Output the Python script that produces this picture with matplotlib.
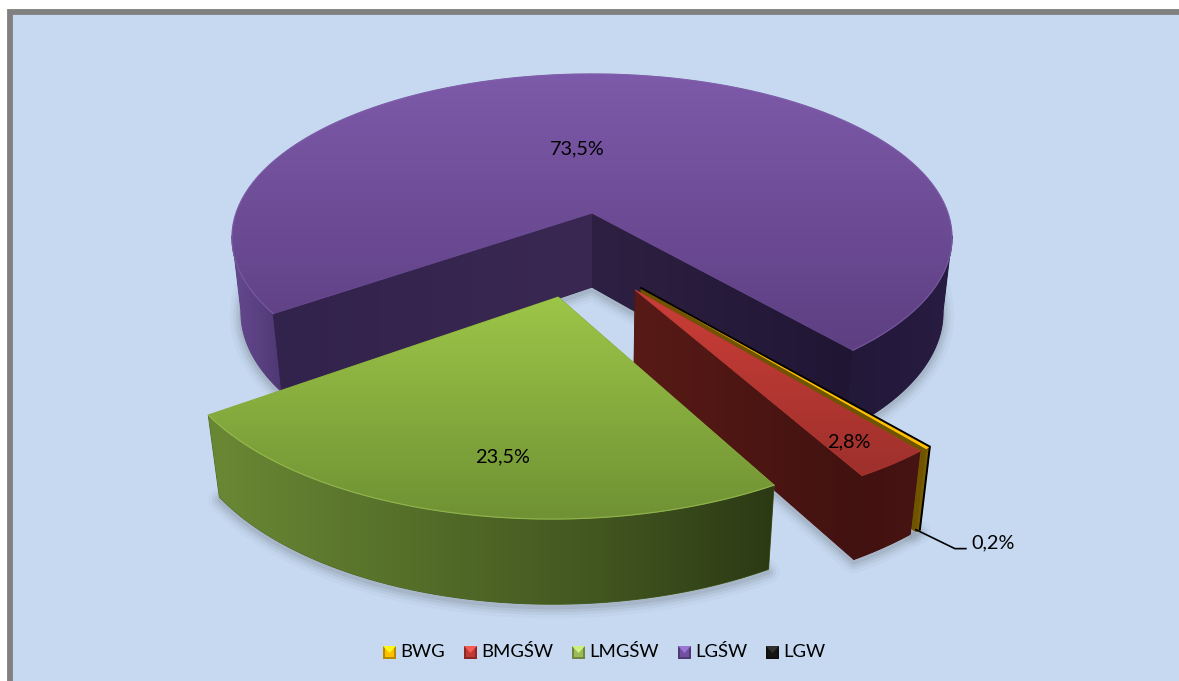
import numpy as np
import matplotlib
matplotlib.use("Agg")
import matplotlib.pyplot as plt
from matplotlib.patches import Polygon, Rectangle

plt.rcParams['font.family'] = ['Lato', 'DejaVu Sans']

# --- data ---
categories = ['BWG', 'BMGŚW', 'LMGŚW', 'LGŚW', 'LGW']
shares = [0.2, 2.8, 23.5, 73.5, 0.0]

# --- page and pie geometry, in pixels ---
W, H = 1179, 681
BG = '#C6D9F1'
CX, CY = 592, 213
A, B, D = 356, 159.9, 76   # half width, half height, wall height
K, Q = 0.15, 0.025         # perspective strength
START = 49.5               # first slice angle, clockwise from +x on screen
OFFSETS = [(0.129, 0.438), (0.113, 0.449), (-0.088, 0.487), (0, 0), (0.129, 0.438)]

fig = plt.figure(figsize=(W / 100, H / 100), dpi=100, facecolor='white')
ax = fig.add_axes([0, 0, 1, 1])
ax.set_xlim(0, W)
ax.set_ylim(H, 0)
ax.axis('off')


def project(u, v, d=0):
    w = 1 - K * v + Q * d
    return CX + A * u / w, CY + (B * v + D * d) / w


def arc(t0, t1, off, d=0, n=120):
    t = np.radians(np.linspace(t0, t1, n))
    x, y = project(np.cos(t) + off[0], np.sin(t) + off[1], d)
    return np.column_stack([x, y])


def point(off, d=0):
    return np.array(project(off[0], off[1], d))


def band(t0, t1, off):
    # outer wall between two angles, top edge then bottom edge
    return np.vstack([arc(t0, t1, off), arc(t0, t1, off, 1)[::-1]])


def fill_grad(poly, stops, vertical=True, z=1):
    # gradient image clipped to a polygon; stops are (position, rgb)
    poly = np.asarray(poly)
    x0, y0 = poly.min(axis=0)
    x1, y1 = poly.max(axis=0)
    pos = np.array([s[0] for s in stops], float)
    rgb = np.array([s[1] for s in stops], float) / 255
    lo, hi = (y0, y1) if vertical else (x0, x1)
    g = np.linspace(lo, hi, 256)
    row = np.column_stack([np.interp(g, pos, rgb[:, i]) for i in range(3)])
    img = row[:, None, :] if vertical else row[None, :, :]
    # solid layer underneath closes the seams between neighbouring faces
    ax.add_patch(Polygon(poly, closed=True, fc=tuple(rgb.mean(axis=0)), ec=tuple(rgb.mean(axis=0)),
                         lw=0.7, zorder=z - 0.01))
    im = ax.imshow(img, extent=(x0, x1, y1, y0), origin='upper', aspect='auto',
                   interpolation='bilinear', zorder=z)
    clip = Polygon(poly, closed=True, transform=ax.transData)
    im.set_clip_path(clip)


def soft_shadow(poly, z=1.5):
    for lw, a in [(16, 0.03), (11, 0.05), (7, 0.07), (3, 0.09)]:
        ax.add_patch(Polygon(poly + [0, 3], closed=True, fill=False, ec='#404040',
                             lw=lw, alpha=a, joinstyle='round', zorder=z))


ax.add_patch(Rectangle((10, 11.5), W, H, fc=BG, ec='#808080', lw=4.2, zorder=0))

# slice angles come from the shares
edges = START + np.concatenate([[0], np.cumsum(shares)]) * 3.6
bwg, bmg, lmg, lgs = [(edges[i], edges[i + 1]) for i in range(4)]

# ground shadows
for (t0, t1), off in [(lgs, OFFSETS[3]), (lmg, OFFSETS[2]), (bmg, OFFSETS[1]), (bwg, OFFSETS[0])]:
    soft_shadow(np.vstack([point(off, 1), arc(t0, t1, off, 1)]))

# LGŚW: the two visible parts of the outer wall, inner walls, then the top face
off = OFFSETS[3]
t0, t1 = lgs
fill_grad(band(t0, 172, off), [(233, (100, 74, 142)), (255, (92, 66, 132)), (285, (76, 54, 112))],
          vertical=False, z=2)
fill_grad(band(368, t1, off), [(850, (34, 24, 56)), (952, (40, 28, 66))], vertical=False, z=2)
left_corner = arc(t0, t0, off, n=1)[0]
left_bottom = arc(t0, t0, off, 1, n=1)[0]
right_corner = arc(t1, t1, off, n=1)[0]
right_bottom = arc(t1, t1, off, 1, n=1)[0]
fill_grad([point(off), left_corner, left_bottom, point(off, 1)],
          [(275, (50, 35, 76)), (592, (58, 40, 82))], vertical=False, z=3)
fill_grad([point(off), point(off, 1), right_bottom, right_corner],
          [(592, (46, 32, 66)), (852, (32, 22, 52))], vertical=False, z=3)
fill_grad(np.vstack([point(off), arc(t0, t1, off)]), [(74, (126, 90, 170)), (350, (93, 63, 130))], z=4)
ax.plot(*arc(t0, t1, off).T, color='#8A6BB5', lw=0.9, alpha=0.45, zorder=4.5)

# BWG: a thin sliver behind BMGŚW, with the empty LGW as a black edge on it
off = OFFSETS[0]
t0, t1 = bwg
fill_grad([point(off), arc(t1, t1, off, n=1)[0], arc(t1, t1, off, 1, n=1)[0], point(off, 1)],
          [(640, (112, 84, 0)), (930, (112, 84, 0))], vertical=False, z=5)
fill_grad(band(t0, t1, off), [(900, (122, 92, 0)), (935, (122, 92, 0))], vertical=False, z=5)
fill_grad(np.vstack([point(off), arc(t0, t1, off)]), [(288, (255, 192, 0)), (445, (255, 192, 0))], z=5.2)

off = OFFSETS[4]
t = edges[4]
lgw_top = arc(t, t, off, n=1)[0]
lgw_bottom = arc(t, t, off, 1, n=1)[0]
ax.plot(*np.array([point(off), lgw_top, lgw_bottom]).T, color='black', lw=1.4,
        solid_joinstyle='miter', zorder=5.3)

# BMGŚW
off = OFFSETS[1]
t0, t1 = bmg
front_t = arc(t1, t1, off, n=1)[0]
front_b = arc(t1, t1, off, 1, n=1)[0]
fill_grad([point(off), front_t, front_b, point(off, 1)],
          [(635, (88, 26, 22)), (855, (66, 18, 16))], vertical=False, z=6)
fill_grad(band(t0, t1, off), [(850, (66, 18, 16)), (920, (70, 20, 18))], vertical=False, z=6)
fill_grad(np.vstack([point(off), arc(t0, t1, off)]), [(290, (204, 62, 56)), (475, (158, 48, 44))], z=6.2)

# LMGŚW
off = OFFSETS[2]
t0, t1 = lmg
fill_grad(band(t0, t1, off),
          [(212, (106, 136, 52)), (400, (86, 112, 42)), (600, (66, 86, 32)), (773, (44, 58, 20))],
          vertical=False, z=7)
fill_grad(np.vstack([point(off), arc(t0, t1, off)]), [(297, (157, 198, 72)), (516, (112, 146, 52))], z=7.2)
ax.plot(*arc(t0, t1, off).T, color='#A5C85F', lw=0.9, alpha=0.5, zorder=7.3)


# value labels
def pct(v):
    return f'{v:.1f}'.replace('.', ',') + '%'


label_pos = [(993, 543), (849, 442), (502, 457), (577, 149)]
for v, (x, y) in zip(shares, label_pos):
    ax.text(x, y, pct(v), ha='center', va='center', fontsize=14.3, color='black', zorder=10)

# leader line for the smallest slice
ax.plot(*np.array([lgw_bottom + [-4, 0], lgw_bottom + [35, 19], lgw_bottom + [46, 19]]).T,
        color='black', lw=1.2, zorder=10)

# legend
colors = [(255, 192, 0), (192, 57, 53), (155, 187, 89), (112, 80, 160), (20, 20, 20)]
marker_x = [383, 464, 572, 678, 766]
for name, c, mx in zip(categories, colors, marker_x):
    c = np.array(c) / 255
    ax.add_patch(Rectangle((mx, 646), 13, 13, fc=c * 0.72, ec='none', zorder=10))
    ax.add_patch(Rectangle((mx + 2, 648), 9, 9, fc=c, ec='none', zorder=10.1))
    ax.add_patch(Polygon([(mx, 646), (mx + 13, 646), (mx + 6.5, 653)], closed=True,
                         fc=np.minimum(c * 1.15 + 0.1, 1), ec='none', zorder=10.2))
    ax.text(mx + 17, 652, name, ha='left', va='center', fontsize=13.3, color='black', zorder=10)

fig.savefig('out.png', dpi=100, facecolor='white')
